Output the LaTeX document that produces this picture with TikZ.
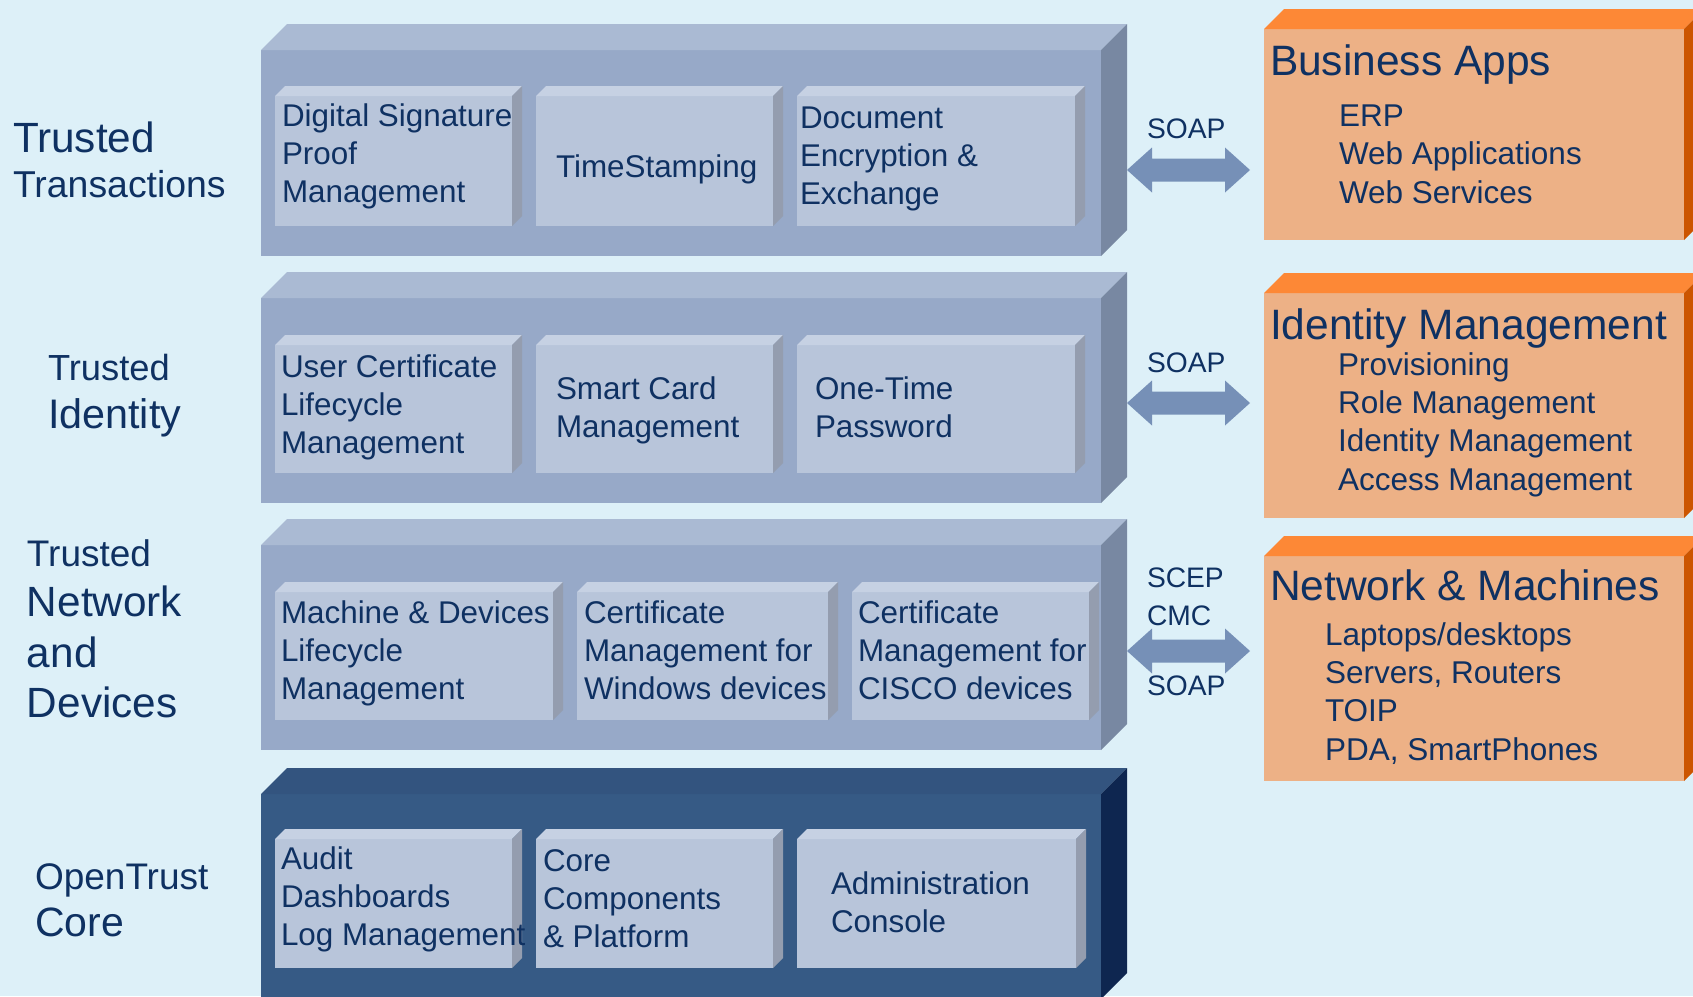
\documentclass[tikz,border=0pt]{standalone}
\usepackage{fontspec}
\setmainfont{Liberation Sans}
\usetikzlibrary{calc}
\definecolor{bg}{HTML}{DDF0F8}
\definecolor{txt}{HTML}{0F3162}
\definecolor{blkfront}{HTML}{97A9C8}
\definecolor{blktop}{HTML}{AABAD3}
\definecolor{blkside}{HTML}{7888A2}
\definecolor{infront}{HTML}{B8C5DA}
\definecolor{intop}{HTML}{C6D1E3}
\definecolor{inside}{HTML}{949DAF}
\definecolor{corefront}{HTML}{365A85}
\definecolor{coretop}{HTML}{33547F}
\definecolor{coreside}{HTML}{0E2650}
\definecolor{orfront}{HTML}{EDB186}
\definecolor{ortop}{HTML}{FD8836}
\definecolor{orside}{HTML}{CC5500}
\definecolor{arrowc}{HTML}{7690B7}
% name, x, y, w, h, depth, front, top, side
\newcommand\threedbox[9]{%
  \node[inner sep=0,outer sep=0,anchor=north west,minimum width=#4pt,minimum height=#5pt,fill=#7] (#1) at (#2,#3) {};
  \fill[#8] (#1.north west) -- ++(#6,-#6) -- ++(#4,0) -- (#1.north east) -- cycle;
  \fill[#9] (#1.north east) -- ++(#6,-#6) -- ++(0,#5) -- (#1.south east) -- cycle;
}
\newcommand\dblarrow[2]{%
  \fill[arrowc] (#1) -- ++(25,-22.5) -- ++(0,11) -- ($(#2)+(-25,-11.5)$) -- ++(0,-11)
    -- (#2) -- ++(-25,22.5) -- ++(0,-11) -- ($(#1)+(25,11.5)$) -- ++(0,11) -- cycle;
}
% multi-line text nodes: anchor base = baseline of the LAST line
\tikzset{
  txtbase/.style={anchor=base west,inner sep=0,outer sep=0,text=txt,align=left},
  boxtxt/.style={txtbase,font=\fontsize{31.4}{38}\selectfont},
  ortitle/.style={txtbase,font=\fontsize{42.5}{50}\selectfont},
  oritem/.style={txtbase,font=\fontsize{31.5}{38.3}\selectfont},
  prot/.style={txtbase,font=\fontsize{28.2}{38}\selectfont},
  side/.style={txtbase,font=\fontsize{#1}{#1}\selectfont},
}
\begin{document}
\begin{tikzpicture}[x=1pt,y=-1pt]
\useasboundingbox (0,0) rectangle (1693,996);
\clip (0,0) rectangle (1693,996);
\fill[bg] (0,0) rectangle (1693,996);

% main layers
\threedbox{b1}{261}{50}{840}{206}{26}{blkfront}{blktop}{blkside}
\threedbox{b2}{261}{298}{840}{205}{26}{blkfront}{blktop}{blkside}
\threedbox{b3}{261}{545}{840}{205}{26}{blkfront}{blktop}{blkside}
\threedbox{b4}{261}{794}{840}{205}{26}{corefront}{coretop}{coreside}

% inner boxes
\threedbox{b1a}{275}{96}{237}{130}{10}{infront}{intop}{inside}
\threedbox{b1b}{536}{96}{237}{130}{10}{infront}{intop}{inside}
\threedbox{b1c}{797}{96}{278}{130}{10}{infront}{intop}{inside}
\threedbox{b2a}{275}{345}{237}{128}{10}{infront}{intop}{inside}
\threedbox{b2b}{536}{345}{237}{128}{10}{infront}{intop}{inside}
\threedbox{b2c}{797}{345}{278}{128}{10}{infront}{intop}{inside}
\threedbox{b3a}{275}{592}{278}{128}{10}{infront}{intop}{inside}
\threedbox{b3b}{577}{592}{251}{128}{10}{infront}{intop}{inside}
\threedbox{b3c}{852}{592}{237}{128}{10}{infront}{intop}{inside}
\threedbox{b4a}{275}{839}{237}{129}{10}{infront}{intop}{inside}
\threedbox{b4b}{536}{839}{237}{129}{10}{infront}{intop}{inside}
\threedbox{b4c}{797}{839}{279}{129}{10}{infront}{intop}{inside}

% orange boxes
\threedbox{o1}{1264}{29}{420}{211}{20}{orfront}{ortop}{orside}
\threedbox{o2}{1264}{293}{420}{225}{20}{orfront}{ortop}{orside}
\threedbox{o3}{1264}{556}{420}{225}{20}{orfront}{ortop}{orside}

% arrows
\coordinate (a1l) at (1127,170); \coordinate (a1r) at (1250,170);
\coordinate (a2l) at (1127,403); \coordinate (a2r) at (1250,403);
\coordinate (a3l) at (1127,651); \coordinate (a3r) at (1250,651);
\dblarrow{a1l}{a1r}
\dblarrow{a2l}{a2r}
\dblarrow{a3l}{a3r}

% protocol labels
\node[prot] (p1) at (1147,138) {SOAP};
\node[prot] (p2) at (1147,372) {SOAP};
\node[prot] (p3) at (1147,587) {SCEP};
\node[prot] (p4) at (1147,625) {CMC};
\node[prot] (p5) at (1147,695) {SOAP};

% left labels
\node[side=42.3] (l1a) at (13,152) {Trusted};
\node[side=37.4] (l1b) at (13,197) {Transactions};
\node[side=36.3] (l2a) at (48,380) {Trusted};
\node[side=41.3] (l2b) at (48,428) {Identity};
\node[side=37] (l3a) at (27,566) {Trusted};
\node[side=42.3] (l3b) at (27,616) {Network};
\node[side=42.3] (l3c) at (27,667) {and};
\node[side=42.3] (l3d) at (27,717) {Devices};
\node[side=37] (l4a) at (35,889) {OpenTrust};
\node[side=41] (l4b) at (35,936) {Core};

% box texts (position = baseline of last line)
\node[boxtxt] (t1a) at (282,202) {Digital Signature\\Proof\\Management};
\node[boxtxt] (t1b) at (556,177) {TimeStamping};
\node[boxtxt] (t1c) at (800,204) {Document\\Encryption \&\\Exchange};
\node[boxtxt] (t2a) at (281,453) {User Certificate\\Lifecycle\\Management};
\node[boxtxt] (t2b) at (556,437) {Smart Card\\Management};
\node[boxtxt] (t2c) at (815,437) {One-Time\\Password};
\node[boxtxt] (t3a) at (281,699) {Machine \& Devices\\Lifecycle\\Management};
\node[boxtxt] (t3b) at (584,699) {Certificate\\Management for\\Windows devices};
\node[boxtxt] (t3c) at (858,699) {Certificate\\Management for\\CISCO devices};
\node[boxtxt] (t4a) at (281,945) {Audit\\Dashboards\\Log Management};
\node[boxtxt] (t4b) at (543,947) {Core\\Components\\\& Platform};
\node[boxtxt] (t4c) at (831,932) {Administration\\Console};

% orange texts
\node[ortitle] (ot1) at (1270,75) {Business Apps};
\node[oritem] (oi1) at (1339,203) {ERP\\Web Applications\\Web Services};
\node[ortitle] (ot2) at (1270,339) {Identity Management};
\node[oritem] (oi2) at (1338,490) {Provisioning\\Role Management\\Identity Management\\Access Management};
\node[ortitle] (ot3) at (1270,600) {Network \& Machines};
\node[oritem] (oi3) at (1325,760) {Laptops/desktops\\Servers, Routers\\TOIP\\PDA, SmartPhones};
\end{tikzpicture}
\end{document}
